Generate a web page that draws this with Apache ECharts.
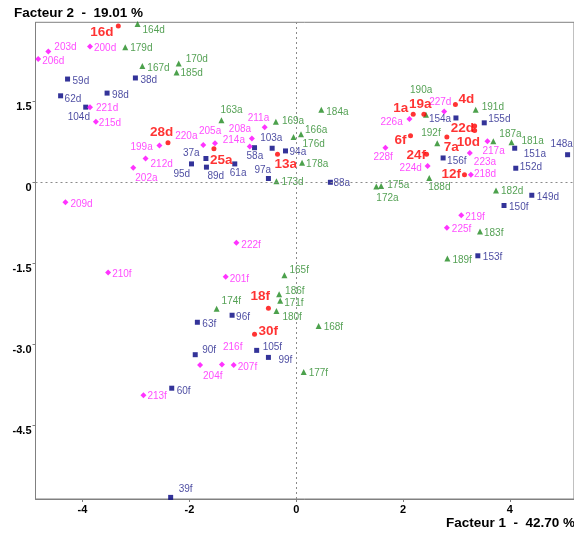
<!DOCTYPE html>
<html>
<head>
<meta charset="utf-8">
<script src="https://cdn.jsdelivr.net/npm/echarts@6/dist/echarts.min.js"></script>
<style>
  html, body { margin: 0; padding: 0; background: #fff; }
  #main { width: 574px; height: 536px; }
</style>
</head>
<body>
<div id="main"></div>
<script>
// groupe "rouge" (points actifs)
const redNames = ['16d','28d','25a','13a','1a','19a','4d','22d','10d','6f','7a','24f','12f','18f','30f'];
const redX = [-3.33,-2.40,-1.54,-0.35,2.19,2.39,2.98,3.34,3.34,2.14,2.82,2.44,3.15,-0.52,-0.78];
const redY = [2.89,0.73,0.62,0.52,1.26,1.26,1.44,1.04,0.96,0.86,0.84,0.52,0.14,-2.33,-2.81];

// groupe magenta
const pinkNames = ['203d','206d','200d','221d','215d','220a','199a','212d','202a','205a','214a','208a','211a','209d','222f',
    '210f','201f','216f','204f','207f','213f','226a','227d','228f','224d','217a','223a','218d','219f','225f'];
const pinkX = [-4.64,-4.83,-3.86,-3.86,-3.75,-1.74,-2.56,-2.82,-3.05,-1.52,-0.87,-0.83,-0.59,-4.32,-1.12,
    -3.52,-1.32,-1.39,-1.80,-1.17,-2.86,2.12,2.77,1.67,2.46,3.58,3.25,3.27,3.09,2.82];
const pinkY = [2.42,2.28,2.51,1.39,1.12,0.69,0.68,0.44,0.27,0.72,0.66,0.81,1.02,-0.37,-1.12,
    -1.67,-1.75,-3.37,-3.38,-3.38,-3.94,1.17,1.31,0.64,0.30,0.76,0.54,0.14,-0.61,-0.84];

// groupe vert
const greenNames = ['164d','179d','167d','170d','185d','163a','169a','184a','166a','176d','178a','173d','190a','191d','192f',
    '187a','181a','175a','172a','188d','182d','183f','189f','165f','186f','171f','180f','174f','168f','177f'];
const greenX = [-2.97,-3.20,-2.88,-2.20,-2.24,-1.40,-0.38,0.47,0.09,-0.05,0.11,-0.37,2.43,3.36,2.64,
    3.69,4.03,1.59,1.50,2.49,3.74,3.44,2.83,-0.22,-0.32,-0.30,-0.37,-1.49,0.42,0.14];
const greenY = [2.93,2.50,2.15,2.20,2.03,1.15,1.12,1.34,0.89,0.84,0.36,0.02,1.25,1.34,0.72,
    0.76,0.74,-0.07,-0.08,0.08,-0.15,-0.91,-1.41,-1.72,-2.07,-2.19,-2.38,-2.34,-2.66,-3.51];

// groupe bleu
const blueNames = ['59d','38d','62d','98d','104d','37a','95d','89d','61a','58a','103a','94a','97a','88a','154a',
    '155d','156f','151a','148a','152d','149d','150f','153f','63f','96f','90f','105f','99f','60f','39f'];
const blueX = [-4.28,-3.01,-4.41,-3.54,-3.94,-1.69,-1.96,-1.68,-1.15,-0.78,-0.45,-0.20,-0.52,0.64,2.99,
    3.52,2.75,4.09,5.08,4.11,4.41,3.89,3.40,-1.85,-1.20,-1.89,-0.74,-0.52,-2.33,-2.35];
const blueY = [1.91,1.93,1.60,1.65,1.39,0.44,0.34,0.28,0.34,0.64,0.63,0.58,0.07,0.00,1.19,
    1.10,0.45,0.63,0.51,0.26,-0.24,-0.43,-1.36,-2.59,-2.46,-3.19,-3.11,-3.24,-3.81,-5.83];

const xTicks = [-4, -2, 0, 2, 4];
const yTicks = [-4.5, -3, -1.5, 0, 1.5];

// placement des étiquettes : [bord gauche, milieu vertical] par rapport au point (px)
const labelAt = {
    '16d':[-28,6], '28d':[-18,-11], '25a':[-4,12], '13a':[-3,10], '1a':[-20,-6], '19a':[-15,-10],
    '4d':[3,-5], '22d':[-24,2], '10d':[-18,12], '6f':[-16,4], '7a':[-3,10], '24f':[-20,1],
    '12f':[-23,0], '18f':[-18,-12], '30f':[4,-3],
    '203d':[6,-4], '206d':[4,2], '200d':[4,2], '221d':[6,1], '215d':[3,2], '220a':[-28,-9],
    '199a':[-29,2], '212d':[5,6], '202a':[2,11], '205a':[-16,-12], '214a':[-27,-6], '208a':[-23,-9],
    '211a':[-17,-9], '209d':[5,2], '222f':[5,2], '210f':[4,2], '201f':[4,2], '216f':[1,-17],
    '204f':[3,11], '207f':[4,2], '213f':[4,1], '226a':[-29,3], '227d':[-15,-9], '228f':[-12,10],
    '224d':[-28,2], '217a':[-5,10], '223a':[4,9], '218d':[3,0], '219f':[4,2], '225f':[5,2],
    '164d':[5,6], '179d':[5,1], '167d':[5,2], '170d':[7,-4], '185d':[4,1], '163a':[-1,-10],
    '169a':[6,0], '184a':[5,2], '166a':[4,-4], '176d':[9,7], '178a':[4,1], '173d':[5,1],
    '190a':[-16,-24], '191d':[6,-3], '192f':[-16,-10], '187a':[6,-7], '181a':[10,-1], '175a':[6,-1],
    '172a':[0,12], '188d':[-1,9], '182d':[5,1], '183f':[4,2], '189f':[5,2], '165f':[5,-5],
    '186f':[6,-3], '171f':[4,3], '180f':[6,6], '174f':[5,-8], '168f':[5,1], '177f':[5,1],
    '59d':[5,2], '38d':[5,2], '62d':[4,3], '98d':[5,2], '104d':[-18,10], '37a':[-23,-5],
    '95d':[-18,10], '89d':[1,9], '61a':[-5,9], '58a':[-8,9], '103a':[-12,-10], '94a':[4,1],
    '97a':[-14,-8], '88a':[3,1], '154a':[-27,1], '155d':[4,-4], '156f':[4,3], '151a':[9,6],
    '148a':[-17,-10], '152d':[4,-1], '149d':[5,2], '150f':[5,2], '153f':[5,1], '63f':[5,2],
    '96f':[4,2], '90f':[7,-4], '105f':[6,-3], '99f':[10,3], '60f':[5,3], '39f':[8,-8]
};

const FONT = 'Liberation Sans, Arial, sans-serif';

function buildData(names, xs, ys, size) {
    let out = [];
    for (let i = 0; i < names.length; i++) {
        let off = labelAt[names[i]] || [4, 0];
        out.push({
            name: names[i],
            value: [xs[i], ys[i]],
            label: { offset: [off[0] - size / 2, off[1]] }
        });
    }
    return out;
}

function makeSeries(name, names, xs, ys, symbol, size, color, labelColor, bold) {
    return {
        name: name,
        type: 'scatter',
        symbol: symbol,
        symbolSize: size,
        clip: false,
        itemStyle: { color: color },
        label: {
            show: true,
            position: 'right',
            distance: 0,
            formatter: '{b}',
            color: labelColor,
            fontFamily: FONT,
            fontSize: bold ? 13.5 : 10,
            fontWeight: bold ? 'bold' : 'normal'
        },
        emphasis: { disabled: true },
        data: buildData(names, xs, ys, size)
    };
}

let chart = echarts.init(document.getElementById('main'));

let series = [
    makeSeries('bleu', blueNames, blueX, blueY, 'rect', 5, '#000080', '#1c1c88', false),
    makeSeries('vert', greenNames, greenX, greenY, 'triangle', 6, '#1f8a1f', '#2a8a2a', false),
    makeSeries('magenta', pinkNames, pinkX, pinkY, 'diamond', 6, '#ff00ff', '#ff22ff', false),
    makeSeries('rouge', redNames, redX, redY, 'circle', 5, '#ff0000', '#ff0000', true)
];
// axes du zéro en pointillés
series[0].markLine = {
    silent: true,
    symbol: 'none',
    label: { show: false },
    lineStyle: { color: '#8a8a8a', type: [2, 3], width: 1 },
    data: [{ xAxis: 0 }, { yAxis: 0 }]
};

chart.setOption({
    animation: false,
    backgroundColor: '#fff',
    grid: {
        left: 35.5, top: 22.3, right: -5.8, bottom: 37,
        show: true, borderColor: '#808080', borderWidth: 1
    },
    xAxis: {
        type: 'value',
        min: -4.88, max: 5.2,
        axisLine: { show: true, onZero: false, lineStyle: { color: '#808080' } },
        axisTick: { show: true, length: 3, customValues: xTicks, lineStyle: { color: '#808080' } },
        axisLabel: {
            customValues: xTicks, margin: 5,
            color: '#000', fontFamily: FONT, fontSize: 11, fontWeight: 'bold'
        },
        splitLine: { show: false }
    },
    yAxis: {
        type: 'value',
        min: -5.86, max: 2.96,
        axisLine: { show: true, onZero: false, lineStyle: { color: '#808080' } },
        axisTick: { show: true, length: 3, customValues: yTicks, lineStyle: { color: '#808080' } },
        axisLabel: {
            customValues: yTicks, margin: 4,
            verticalAlign: 'top',
            color: '#000', fontFamily: FONT, fontSize: 11, fontWeight: 'bold',
            formatter: function (v) { return v === 0 ? '0' : v.toFixed(1); }
        },
        splitLine: { show: false }
    },
    graphic: [
        {
            type: 'text', left: 14, top: 6,
            style: { text: 'Facteur 2  -  19.01 %', font: 'bold 13.5px ' + FONT, fill: '#000' }
        },
        {
            type: 'text', left: 446, top: 516,
            style: { text: 'Facteur 1  -  42.70 %', font: 'bold 13.5px ' + FONT, fill: '#000' }
        }
    ],
    series: series
});
</script>
</body>
</html>
